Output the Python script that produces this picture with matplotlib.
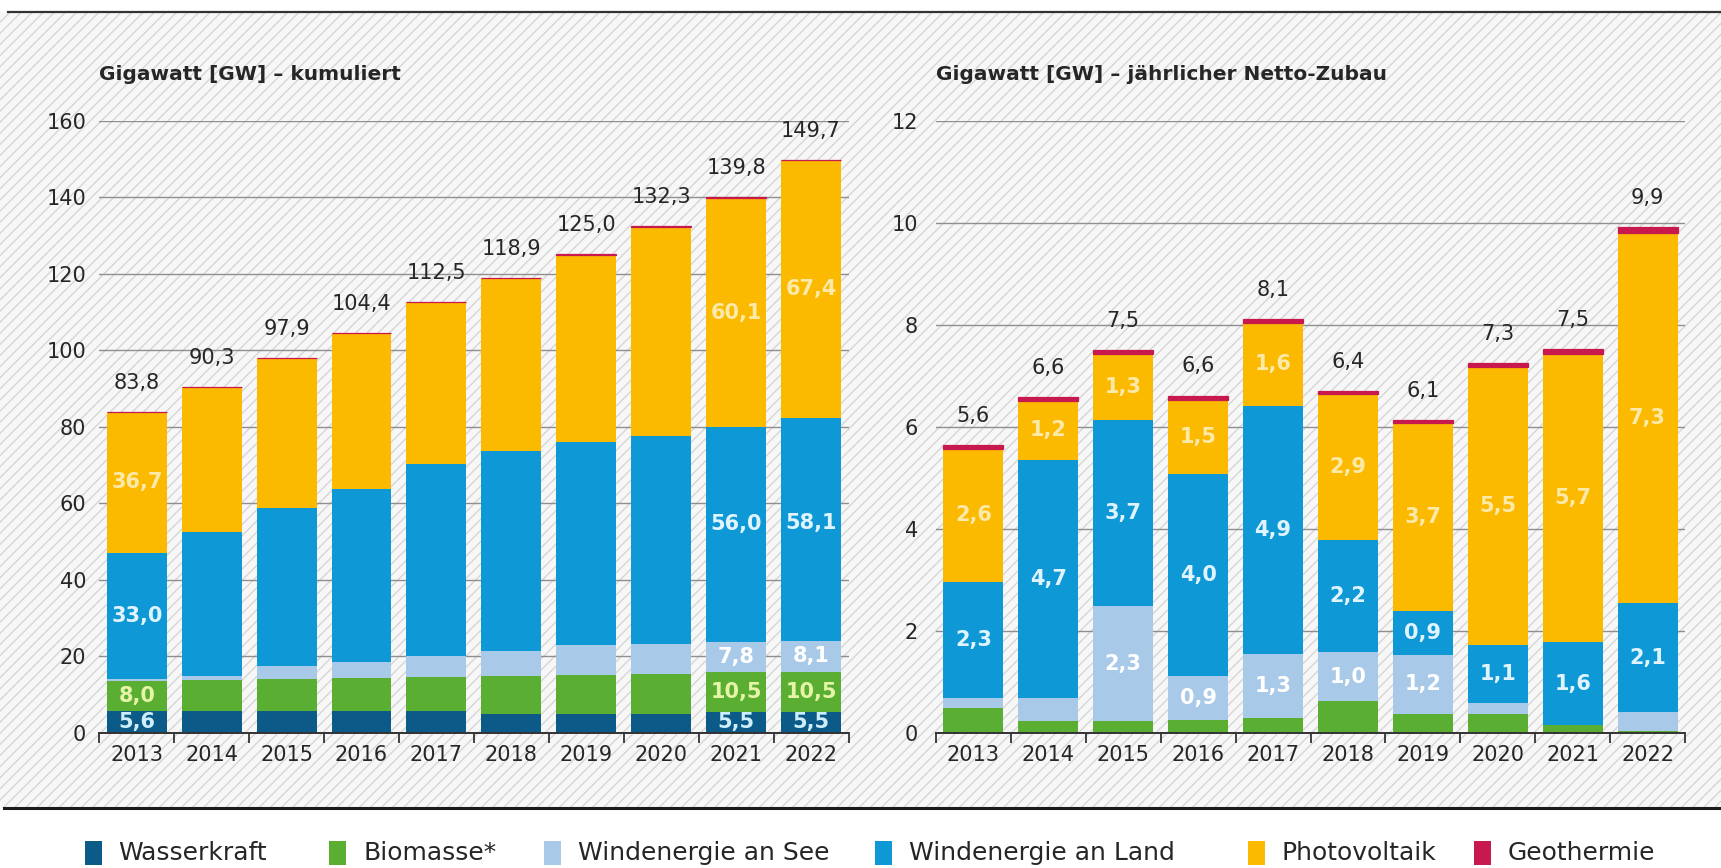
import numpy as np
import matplotlib
matplotlib.use("Agg")
import matplotlib.pyplot as plt
from matplotlib.patches import Rectangle
from matplotlib.lines import Line2D

# ---------------- data ----------------
years = [2013, 2014, 2015, 2016, 2017, 2018, 2019, 2020, 2021, 2022]
series_names = ["Wasserkraft", "Biomasse*", "Windenergie an See",
                "Windenergie an Land", "Photovoltaik", "Geothermie"]

# cumulative installed capacity (GW)
cum_wasser = [5.6, 5.6, 5.6, 5.6, 5.6, 4.9, 4.9, 4.9, 5.5, 5.5]
cum_bio = [8.0, 8.1, 8.5, 8.6, 9.0, 10.0, 10.3, 10.5, 10.5, 10.5]
cum_see = [0.5, 1.0, 3.3, 4.2, 5.4, 6.4, 7.6, 7.8, 7.8, 8.1]
cum_land = [33.0, 37.7, 41.3, 45.3, 50.2, 52.4, 53.3, 54.4, 56.0, 58.1]
cum_pv = [36.7, 37.9, 39.2, 40.7, 42.3, 45.2, 48.9, 54.7, 60.1, 67.4]
cum_geo = [0.03, 0.03, 0.03, 0.04, 0.04, 0.04, 0.04, 0.04, 0.05, 0.05]
cum_totals = [83.8, 90.3, 97.9, 104.4, 112.5, 118.9, 125.0, 132.3, 139.8, 149.7]

# annual net additions (GW)
ann_wasser = [0.0, 0.0, 0.0, 0.0, 0.0, 0.0, 0.0, 0.0, 0.0, 0.0]
ann_bio = [0.48, 0.22, 0.22, 0.25, 0.28, 0.62, 0.37, 0.37, 0.15, 0.03]
ann_see = [0.21, 0.47, 2.26, 0.86, 1.26, 0.96, 1.16, 0.21, 0.0, 0.37]
ann_land = [2.26, 4.66, 3.66, 3.96, 4.86, 2.20, 0.86, 1.14, 1.62, 2.14]
ann_pv = [2.62, 1.16, 1.29, 1.46, 1.64, 2.86, 3.68, 5.46, 5.66, 7.26]
ann_geo = [0.07, 0.07, 0.07, 0.08, 0.07, 0.06, 0.06, 0.07, 0.10, 0.11]
ann_totals = [5.6, 6.6, 7.5, 6.6, 8.1, 6.4, 6.1, 7.3, 7.5, 9.9]

left_ticks = [0, 20, 40, 60, 80, 100, 120, 140, 160]
right_ticks = [0, 2, 4, 6, 8, 10, 12]
left_title = "Gigawatt [GW] – kumuliert"
right_title = "Gigawatt [GW] – jährlicher Netto-Zubau"

# ---------------- style ----------------
colors = ["#0b5a87", "#5aae32", "#a9c9e9", "#0f98d6", "#fbb900", "#c8194e"]
label_colors = {"Wasserkraft": "#cdeefa", "Biomasse*": "#e6f4a8",
                "Windenergie an See": "#ffffff",
                "Windenergie an Land": "#e0f4ff", "Photovoltaik": "#fde9a8"}

left_labels = {"Wasserkraft": [0, 8, 9], "Biomasse*": [0, 8, 9],
               "Windenergie an See": [8, 9],
               "Windenergie an Land": [0, 8, 9], "Photovoltaik": [0, 8, 9]}
left_frac = {("Windenergie an Land", 8): 0.55, ("Windenergie an Land", 9): 0.53}
right_labels = {"Windenergie an See": [2, 3, 4, 5, 6],
                "Windenergie an Land": list(range(10)),
                "Photovoltaik": list(range(10))}

plt.rcParams['font.family'] = ['DejaVu Sans']
TXT = "#262626"

W, H = 1721, 868
fig = plt.figure(figsize=(W / 100, H / 100), dpi=100)
fig.patch.set_facecolor("white")

# hatched background band
bg = Rectangle((0, 1 - 808 / H), 1, (808 - 12) / H, transform=fig.transFigure,
               facecolor="#f7f7f7", edgecolor="#d6d6d6", hatch="///",
               linewidth=0, zorder=-10)
fig.patches.append(bg)
fig.add_artist(Line2D([8 / W, 1], [1 - 12 / H] * 2, color="#333333", lw=1.6))
fig.add_artist(Line2D([4 / W, 1], [1 - 808 / H] * 2, color="#1a1a1a", lw=2.2))

y0 = 1 - 732.7 / H
hgt = (732.7 - 120.7) / H
axL = fig.add_axes([99.3 / W, y0, (848.5 - 99.3) / W, hgt])
axR = fig.add_axes([936 / W, y0, (1685 - 936) / W, hgt])
axL.set_zorder(2)
axR.set_zorder(2)


def fmt(v):
    return f"{v:.1f}".replace(".", ",")


def draw(ax, stacks, totals, ticks, labels, fracs, title, ypad):
    x = np.arange(len(years))
    bottom = np.zeros(len(years))
    for name, vals, col in zip(series_names, stacks, colors):
        vals = np.asarray(vals, dtype=float)
        geo = name == "Geothermie"
        ax.bar(x, vals, 0.8, bottom=bottom, color=col,
               edgecolor=col if geo else "none", linewidth=0.9 if geo else 0,
               zorder=3)
        for i in labels.get(name, []):
            f = fracs.get((name, i), 0.5)
            ax.text(x[i], bottom[i] + vals[i] * f, fmt(vals[i]),
                    ha="center", va="center", fontsize=15, fontweight="bold",
                    color=label_colors[name], zorder=4)
        bottom += vals
    for i, t in enumerate(totals):
        ax.annotate(fmt(t), xy=(x[i], bottom[i]), xytext=(0, 21),
                    textcoords="offset points", ha="center", va="center",
                    fontsize=15, color=TXT, zorder=4)
    ax.set_facecolor("none")
    ax.set_xlim(-0.5, len(years) - 0.5)
    ax.set_ylim(ticks[0], ticks[-1])
    ax.set_yticks(ticks)
    ax.set_yticklabels([str(t) for t in ticks])
    ax.set_xticks(x)
    ax.set_xticklabels([str(y) for y in years])
    ax.set_xticks(np.arange(-0.5, len(years)), minor=True)
    ax.tick_params(axis="x", which="major", length=0, pad=9,
                   labelsize=15, labelcolor=TXT)
    ax.tick_params(axis="x", which="minor", length=7.5, width=1.3,
                   color="#333333", direction="out")
    ax.tick_params(axis="y", length=0, pad=ypad, labelsize=15, labelcolor=TXT)
    ax.yaxis.grid(True, color="#8f8f8f", lw=1.0)
    ax.set_axisbelow(True)
    for s in ("left", "right", "top"):
        ax.spines[s].set_visible(False)
    ax.spines["bottom"].set_color("#333333")
    ax.spines["bottom"].set_linewidth(1.4)
    ax.spines["bottom"].set_zorder(5)
    ax.text(0, 1 + (120.7 - 74) / 612, title, transform=ax.transAxes,
            ha="left", va="center", fontsize=14.5, fontweight="bold", color=TXT)


draw(axL, [cum_wasser, cum_bio, cum_see, cum_land, cum_pv, cum_geo],
     cum_totals, left_ticks, left_labels, left_frac, left_title, 9.5)
draw(axR, [ann_wasser, ann_bio, ann_see, ann_land, ann_pv, ann_geo],
     ann_totals, right_ticks, right_labels, {}, right_title, 13)

# legend
leg_sq = [84.5, 329, 544, 875, 1248, 1474]
yc = 853
for name, col, xs in zip(series_names, colors, leg_sq):
    fig.patches.append(Rectangle((xs / W, 1 - (yc + 12) / H), 17 / W, 24 / H,
                                 transform=fig.transFigure, facecolor=col,
                                 edgecolor="none"))
    fig.text((xs + 34) / W, 1 - yc / H, name, ha="left", va="center",
             fontsize=18, color=TXT)

fig.savefig("out.png", dpi=100, facecolor="white")
